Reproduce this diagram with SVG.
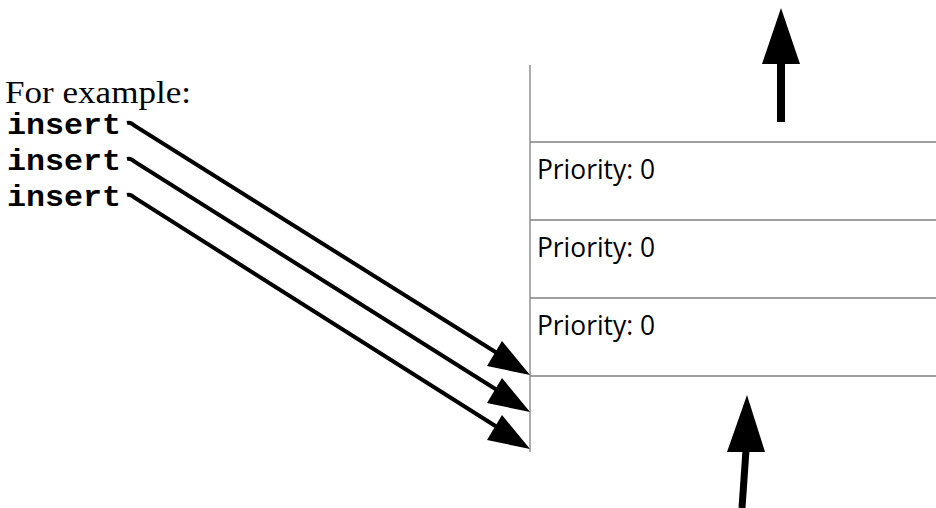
<svg xmlns="http://www.w3.org/2000/svg" width="936" height="508" viewBox="0 0 936 508">
<style>
.grid{stroke:#808080;stroke-width:1.3;fill:none}
.arr{stroke:#000;stroke-width:4;fill:none}
.head{fill:#000}
.pr{font-family:"Open Sans","Liberation Sans",sans-serif;font-size:27px;fill:#000}
.ins{font-family:"Liberation Mono",monospace;font-weight:bold;font-size:29px;fill:#000}
.cap{font-family:"Liberation Serif",serif;font-size:32px;fill:#000}
</style>
<rect width="936" height="508" fill="#fff"/>
<g id="labels">
<text class="cap" x="5" y="103" textLength="186" lengthAdjust="spacingAndGlyphs">For example:</text>
<text class="ins" x="7" y="134" textLength="114" lengthAdjust="spacingAndGlyphs">insert</text>
<text class="ins" x="7" y="170" textLength="114" lengthAdjust="spacingAndGlyphs">insert</text>
<text class="ins" x="7" y="206" textLength="114" lengthAdjust="spacingAndGlyphs">insert</text>
</g>
<g id="queue">
<line class="grid" x1="530" y1="65" x2="530" y2="452"/>
<line class="grid" x1="530" y1="142" x2="936" y2="142"/>
<line class="grid" x1="530" y1="220" x2="936" y2="220"/>
<line class="grid" x1="530" y1="298" x2="936" y2="298"/>
<line class="grid" x1="530" y1="376" x2="936" y2="376"/>
</g>
<g id="p1"><text class="pr" x="537" y="179" textLength="118" lengthAdjust="spacingAndGlyphs">Priority: 0</text></g>
<g id="p2"><text class="pr" x="537" y="257" textLength="118" lengthAdjust="spacingAndGlyphs">Priority: 0</text></g>
<g id="p3"><text class="pr" x="537" y="335" textLength="118" lengthAdjust="spacingAndGlyphs">Priority: 0</text></g>
<g id="connectors">
<path class="arr" d="M127,123 Q131,122 135,126 L497,353"/>
<polygon class="head" points="530,375 487,366 502,341"/>
<path class="arr" d="M127,159 Q131,158 135,162 L497,390"/>
<polygon class="head" points="530,412 487,403 502,378"/>
<path class="arr" d="M127,195 Q131,194 135,198 L497,427"/>
<polygon class="head" points="530,449 487,440 502,415"/>
<line x1="781" y1="60" x2="781" y2="122" stroke="#000" stroke-width="8"/>
<polygon class="head" points="781,8 800,64 762,64"/>
<line x1="746" y1="450" x2="742" y2="508" stroke="#000" stroke-width="7"/>
<polygon class="head" points="747,395 765,452 727,452"/>
</g>
</svg>
